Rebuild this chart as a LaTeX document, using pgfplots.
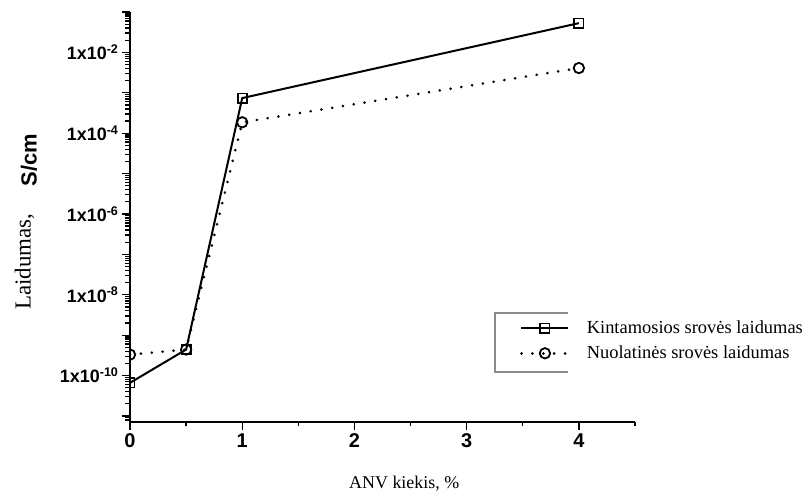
\documentclass[border=0pt]{standalone}
\usepackage{fontspec}
\setmainfont{Liberation Serif}
\setsansfont{Liberation Sans}
\usepackage{pgfplots}
\pgfplotsset{compat=1.18}
\newcommand\yl[1]{1x10\textsuperscript{-#1}}
\begin{document}
\begin{tikzpicture}
\useasboundingbox (-130bp,-74bp) rectangle (679bp,422bp);
\begin{axis}[
  scale only axis, width=505bp, height=410bp,
  xmin=0, xmax=4.5, ymode=log, ymin=7.08e-12, ymax=1e-1,
  axis x line=bottom, axis y line=left,
  axis line style={-, line width=1.8bp},
  tick align=outside,
  major tick length=8bp, minor tick length=4.5bp,
  every tick/.style={line width=1.3bp, black},
  xtick={0,1,2,3,4}, xticklabels={0,1,2,3,4},
  minor xtick={0.5,1.5,2.5,3.5,4.5},
  ytick={1e-11,1e-10,1e-9,1e-8,1e-7,1e-6,1e-5,1e-4,1e-3,1e-2,1e-1},
  yticklabels={,\yl{10},,\yl{8},,\yl{6},,\yl{4},,\yl{2},},
  minor ytick={8e-12,9e-12,
    2e-11,3e-11,4e-11,5e-11,6e-11,7e-11,8e-11,9e-11,
    2e-10,3e-10,4e-10,5e-10,6e-10,7e-10,8e-10,9e-10,
    2e-9,3e-9,4e-9,5e-9,6e-9,7e-9,8e-9,9e-9,
    2e-8,3e-8,4e-8,5e-8,6e-8,7e-8,8e-8,9e-8,
    2e-7,3e-7,4e-7,5e-7,6e-7,7e-7,8e-7,9e-7,
    2e-6,3e-6,4e-6,5e-6,6e-6,7e-6,8e-6,9e-6,
    2e-5,3e-5,4e-5,5e-5,6e-5,7e-5,8e-5,9e-5,
    2e-4,3e-4,4e-4,5e-4,6e-4,7e-4,8e-4,9e-4,
    2e-3,3e-3,4e-3,5e-3,6e-3,7e-3,8e-3,9e-3,
    2e-2,3e-2,4e-2,5e-2,6e-2,7e-2,8e-2,9e-2},
  yticklabel style={font=\sffamily\bfseries\fontsize{18}{18}\selectfont},
  xticklabel style={font=\sffamily\bfseries\fontsize{20}{20}\selectfont},
  xlabel={ANV kiekis, \%},
  xlabel style={font=\fontsize{18}{18}\selectfont, at={(axis description cs:0.543,-0.151)}, anchor=center},
  ylabel={{\fontsize{23}{23}\selectfont Laidumas,}\hspace{27bp}\raisebox{-6bp}{\sffamily\bfseries\fontsize{22}{22}\selectfont S/cm}},
  ylabel style={at={(axis description cs:-0.206,0.488)}, anchor=center},
  clip marker paths=true,
  legend style={at={(axis description cs:0.772,0.252)}, anchor=north west,
    draw=none, fill=none, inner sep=0pt, row sep=7bp, column sep=15bp,
    font=\fontsize{18.5}{18.5}\selectfont},
  legend cell align=left,
  legend image code/.code={\draw[mark repeat=2,mark phase=2,#1] plot coordinates {(0bp,0bp) (23.5bp,0bp) (47bp,0bp)};},
]
\addplot[black, line width=2bp, mark=square, mark size=4.6bp, mark options={solid, fill=white, line width=1.8bp}]
  coordinates {(0,6.6e-11) (0.5,4.4e-10) (1,7.4e-4) (4,5.3e-2)};
\addlegendentry{Kintamosios srovės laidumas}
\addplot[black, line width=2.8bp, line cap=round, dash pattern=on 0.1bp off 10.8bp, mark=o, mark size=5.2bp, mark options={solid, fill=white, line width=1.8bp}]
  coordinates {(0,3.3e-10) (0.5,4.4e-10) (1,1.86e-4) (4,4.1e-3)};
\addlegendentry{Nuolatinės srovės laidumas}
\end{axis}
\draw[black!45, line width=1.2bp] (438bp,109bp) -- (365bp,109bp) -- (365bp,50bp) -- (438bp,50bp);
\end{tikzpicture}
\end{document}
